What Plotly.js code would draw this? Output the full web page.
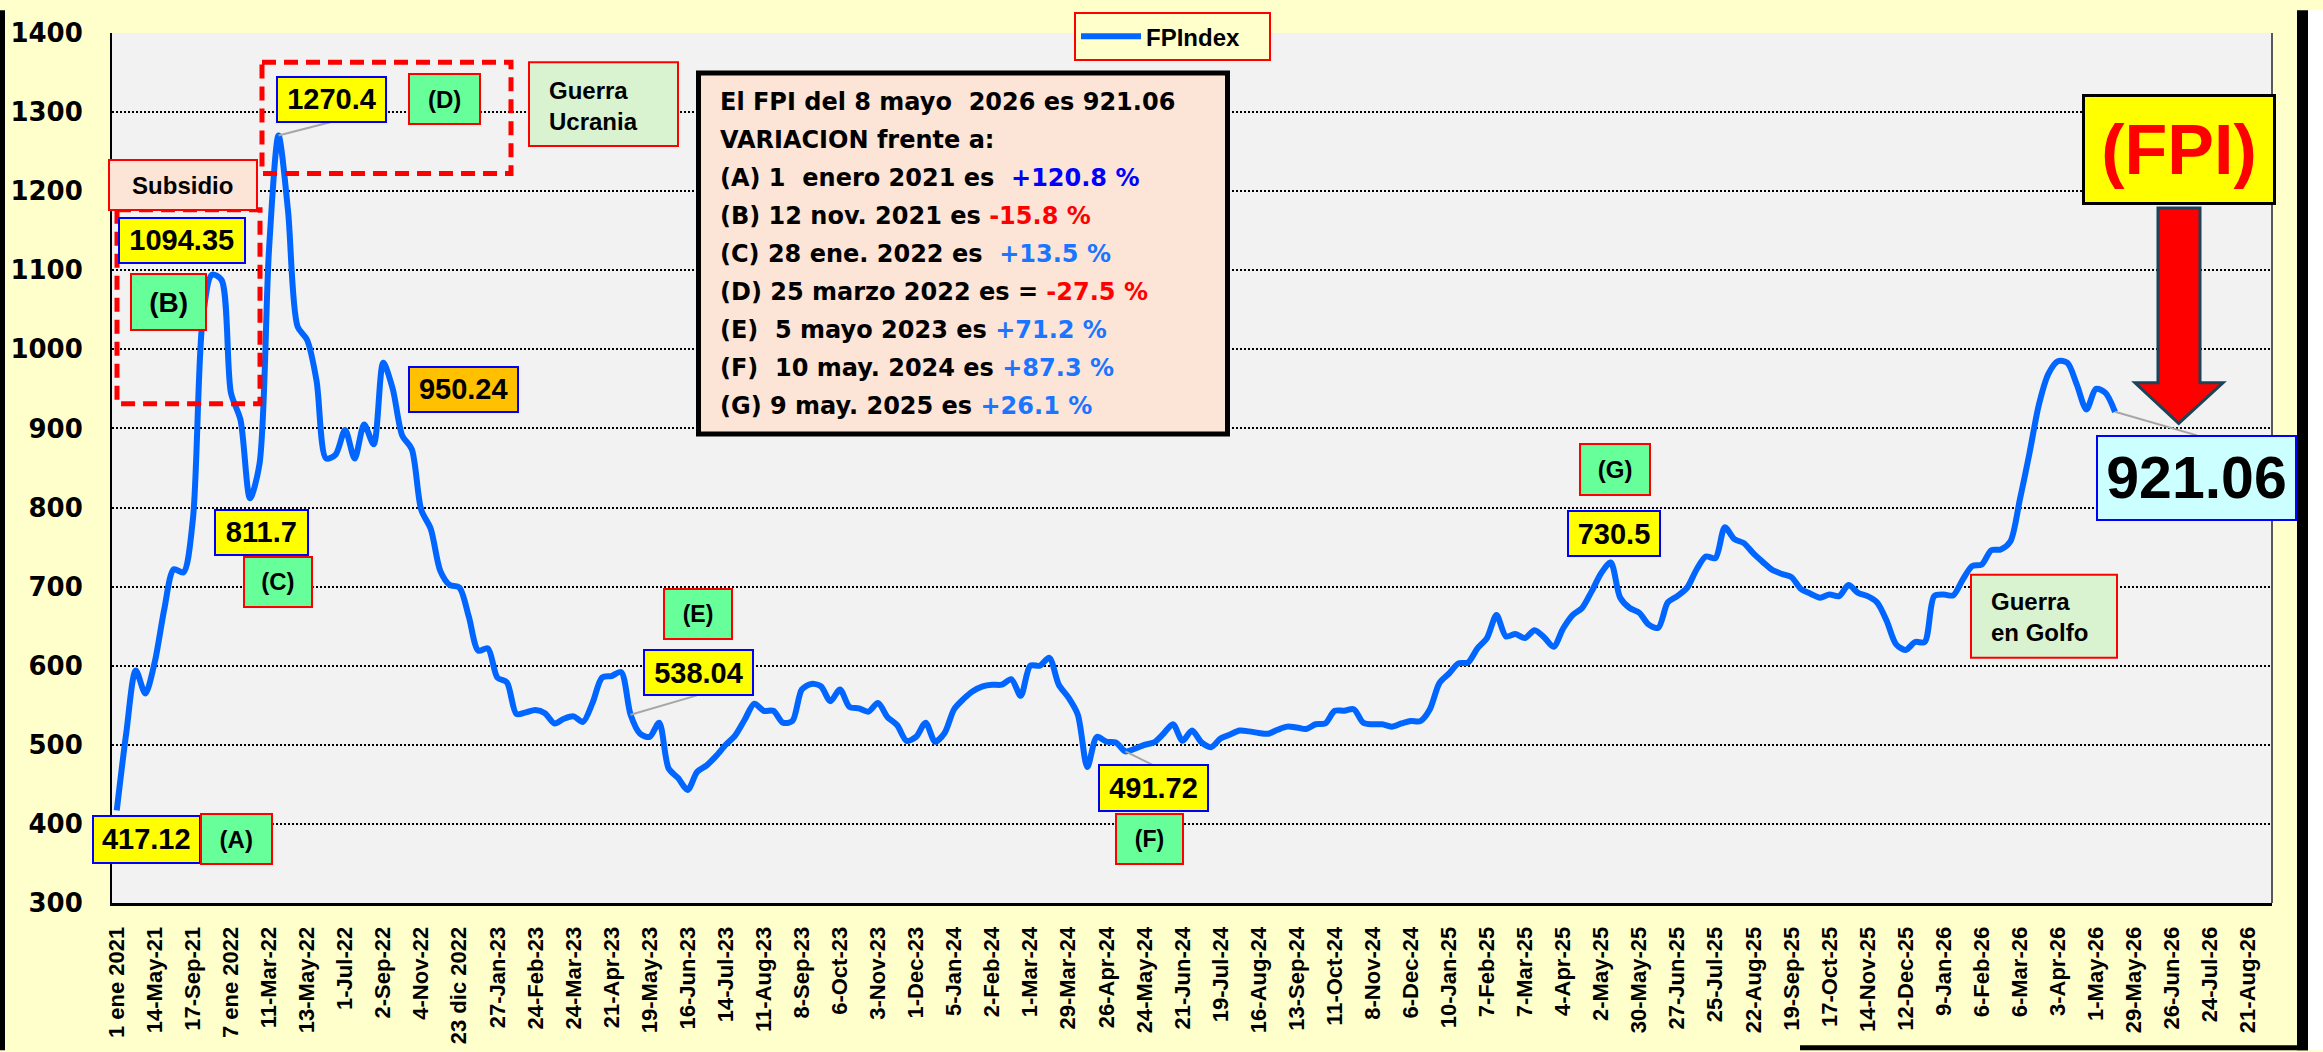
<!DOCTYPE html>
<html><head><meta charset="utf-8">
<script src="https://cdn.plot.ly/plotly-3.0.1.min.js"></script>
<style>html,body{margin:0;padding:0;background:#FFFFCC;overflow:hidden}#chart{width:2323px;height:1052px}</style>
</head><body><div id="chart"></div>
<script>
// ---------------- DATA ----------------
const seriesName = 'FPIndex';
const tickLabels = ["1 ene 2021","14-May-21","17-Sep-21","7 ene 2022","11-Mar-22","13-May-22","1-Jul-22","2-Sep-22","4-Nov-22","23 dic 2022","27-Jan-23","24-Feb-23","24-Mar-23","21-Apr-23","19-May-23","16-Jun-23","14-Jul-23","11-Aug-23","8-Sep-23","6-Oct-23","3-Nov-23","1-Dec-23","5-Jan-24","2-Feb-24","1-Mar-24","29-Mar-24","26-Apr-24","24-May-24","21-Jun-24","19-Jul-24","16-Aug-24","13-Sep-24","11-Oct-24","8-Nov-24","6-Dec-24","10-Jan-25","7-Feb-25","7-Mar-25","4-Apr-25","2-May-25","30-May-25","27-Jun-25","25-Jul-25","22-Aug-25","19-Sep-25","17-Oct-25","14-Nov-25","12-Dec-25","9-Jan-26","6-Feb-26","6-Mar-26","3-Apr-26","1-May-26","29-May-26","26-Jun-26","24-Jul-26","21-Aug-26"];
const labelStep = 4;          // one tick label every 4 categories
const categoryCount = 227;    // categories on the axis (data + empty future weeks)
const fpiValues = [
 417.12,515,594,565,605,672,722,718,785,1035,
 1094.35,1088,945,911,811.7,855,1126,1270.4,1175,1029,
 1012,960,862,867,898,862,905,880,983,950.24,
 891,874,797,773,720,702,699,662,619,622,
 585,579,539,541,544,540,527,533,536,529,
 553,585,587,592,538.04,514,510,528,470,458,
 443,466,474,486,500,512,532,552,543,543,
 528,530,570,577,574,555,570,548,546,542,
 553,535,525,505,510,528,504,515,545,558,
 568,574,576,576,583,562,600,600,610,576,
 560,538,472,510,504,503,491.72,495,500,503,
 514,526,505,518,503,497,508,513,518,517,
 515,514,519,523,522,520,526,527,543,543,
 545,528,526,526,523,527,530,530,545,578,
 590,603,604,622,635,664,637,640,635,645,
 636,624,647,664,673,694,717,730.5,686,673,
 667,652,648,680,688,698,721,738,736,775,
 760,755,742,731,721,716,712,697,691,686,
 690,688,702,692,688,680,657,627,620,630,
 630,688,690,689,709,726,728,746,747,757,
 810,868,930,969,985,983,955,924,950,945,
 921.06];
// highlighted points (index into fpiValues) that have a leader line to their label
const leaderIdx = {D:17, E:54, F:106, NOW:210};

const infoLines = [
 "El FPI del 8 mayo\u00a0 2026 es 921.06",
 "VARIACION frente a:",
 "(A) 1\u00a0 enero 2021 es\u00a0 <span style='color:#0000FF'>+120.8 %</span>",
 "(B) 12 nov. 2021 es <span style='color:#FF0000'>-15.8 %</span>",
 "(C) 28 ene. 2022 es\u00a0 <span style='color:#1A75FF'>+13.5 %</span>",
 "(D) 25 marzo 2022 es = <span style='color:#FF0000'>-27.5 %</span>",
 "(E)\u00a0 5 mayo 2023 es <span style='color:#1A75FF'>+71.2 %</span>",
 "(F)\u00a0 10 may. 2024 es <span style='color:#1A75FF'>+87.3 %</span>",
 "(G) 9 may. 2025 es <span style='color:#1A75FF'>+26.1 %</span>"
];

// ---------------- GEOMETRY HELPERS ----------------
const L=112, R=2272, T=23, B=903;
const px = x => (x-L)/(R-L);
const py = y => (B-y)/(B-T);
const catW = (R-L)/categoryCount;
const dx = x => (x-L)/catW - 0.5;
const dy = y => 1400 - (y-T)*1100/(B-T);

const ARIAL = 'Liberation Sans, Arial, sans-serif';
const WIDE = 'DejaVu Sans, Verdana, sans-serif';

const annotations = [];
const shapes = [];

function box(text, x0, y0, x1, y1, fill, border, bw, fsize, color, family){
  annotations.push({xref:'paper', yref:'paper', x:px((x0+x1)/2), y:py((y0+y1)/2),
    xanchor:'center', yanchor:'middle', showarrow:false, text:text,
    width:(x1-x0)-2*bw, height:(y1-y0)-2*bw, borderpad:0,
    bgcolor:fill, bordercolor:border, borderwidth:bw,
    font:{family:family||ARIAL, size:fsize, color:color||'#000', weight:'bold'}});
}
function rect(x0,y0,x1,y1,fill,line,lw,dash){
  shapes.push({type:'rect', xref:'paper', yref:'paper', x0:px(x0), x1:px(x1), y0:py(y0), y1:py(y1),
    fillcolor:fill, line:{color:line, width:lw, dash:dash||'solid'}, layer:'above'});
}
function label(text, x, y, fsize, family, anchor){
  annotations.push({xref:'paper', yref:'paper', x:px(x), y:py(y), xanchor:anchor||'left', yanchor:'middle',
    showarrow:false, text:text, align:'left', font:{family:family||ARIAL, size:fsize, color:'#000', weight:'bold'}});
}

// page frame strips
rect(0,0,5,1052,'#000','#000',0);
rect(2297,0,2308,1052,'#000','#000',0);
rect(2308,0,2323,1052,'#FFFFFF','#FFFFFF',0);
rect(1800,1047,2308,1052,'#000','#000',0);
// plot right border
shapes.push({type:'line', xref:'paper', yref:'paper', x0:1, x1:1, y0:0, y1:1, line:{color:'#595959', width:2}});

// leader lines (from data points to their labels)
function leader(i, ex, ey){
  shapes.push({type:'line', xref:'x', yref:'y', x0:i, y0:fpiValues[i], x1:dx(ex), y1:dy(ey),
    line:{color:'#A6A6A6', width:2}, layer:'above'});
}
leader(leaderIdx.D, 331, 113);
leader(leaderIdx.E, 697, 693);
leader(leaderIdx.F, 1152, 763);
leader(leaderIdx.NOW, 2197, 430);

// dashed highlight frames
rect(117,201.7,260,398,'rgba(0,0,0,0)','#FF0000',5,'14px,8px');
rect(262,52.7,511,165,'rgba(0,0,0,0)','#FF0000',5,'14px,8px');

// info box
rect(698.5,63.5,1227.5,428.5,'#FCE4D6','#000000',5);
const infoBase = [101.7,140,178.3,216.7,255,293.3,331.7,370,408.3];
infoLines.forEach((t,k)=>label(t, 718, infoBase[k]-8.5, 24, WIDE));

// text boxes
rect(529,52.7,678,137.3,'#D9F2D0','#FF0000',2);
label('Guerra<br>Ucrania', 547, 97, 24, ARIAL);
rect(1971,571,2117,655,'#D9F2D0','#FF0000',2);
label('Guerra<br>en Golfo', 1989, 613.5, 24, ARIAL);
box('Subsidio',108.5,150.7,258,202.7,'#FCE4D6','#FF0000',2,24);

// value labels
const YEL='#FFFF00', GRN='#66FF99', BLU='#0000FF', RED='#FF0000';
box(String(fpiValues[0]),92,814,200.5,862.7,YEL,BLU,2,29);
box('(A)',200.5,811.7,273,864,GRN,RED,2,24);
box(String(fpiValues[10]),118,210,245.5,256.7,YEL,BLU,2,29);
box('(B)',129.5,266,206.7,324,GRN,RED,2,28);
box(String(fpiValues[17]),275.4,66.7,386.6,113.3,YEL,BLU,2,29);
box('(D)',407.6,63.3,480.8,115.3,GRN,RED,2,24);
box(String(fpiValues[29]),408.5,360,519,406.7,'#FFC000',BLU,2,29);
box(String(fpiValues[14]),214,505,308.7,551.7,YEL,BLU,2,29);
box('(C)',243,552.7,312.8,604.3,GRN,RED,2,24);
box('(E)',663,585,733,637.3,GRN,RED,2,23);
box(String(fpiValues[54]),643,646,754,693.3,YEL,BLU,2,29);
box(String(fpiValues[106]),1098,763,1209,810.7,YEL,BLU,2,29);
box('(F)',1115,811.7,1184,864,GRN,RED,2,23);
box('(G)',1578.7,438,1651,490.7,GRN,RED,2,24);
box(String(fpiValues[157]),1567,506,1661,553.3,YEL,BLU,2,29);
box('(FPI)',2081.7,85,2275.7,196.4,YEL,'#000000',3,70,'#FF0000');
box(String(fpiValues[210]),2095.7,430.4,2296.7,516,'#CCFFFF',BLU,2,59);

// big red arrow
const P = (x,y)=>px(x).toFixed(5)+','+py(y).toFixed(5);
shapes.push({type:'path', xref:'paper', yref:'paper', layer:'above',
  path:'M'+P(2158,200)+' L'+P(2200,200)+' L'+P(2200,376.8)+' L'+P(2223,376.8)+' L'+P(2178.7,417.9)+' L'+P(2135,376.8)+' L'+P(2158,376.8)+' Z',
  fillcolor:'#FF0000', line:{color:'#1B4459', width:3}});

// ---------------- CHART ----------------
const trace = {
  x: fpiValues.map((_,i)=>i), y: fpiValues, type:'scatter', mode:'lines', name:seriesName,
  line:{color:'#0066FF', width:6, shape:'spline', smoothing:0.8}, showlegend:true
};

const layout = {
  width:2323, height:1052, margin:{l:112, r:51, t:23, b:149, pad:0},
  paper_bgcolor:'#FFFFCC', plot_bgcolor:'#F2F2F2',
  showlegend:true,
  legend:{x:px(1074), xanchor:'left', y:py(2), yanchor:'top', orientation:'h',
    itemwidth:60, entrywidth:118, entrywidthmode:'pixels',
    bgcolor:'#FFFFCC', bordercolor:'#FF0000', borderwidth:2,
    font:{family:ARIAL, size:24, color:'#000', weight:'bold'}},
  xaxis:{range:[-0.5, categoryCount-0.5], tickmode:'array',
    tickvals: tickLabels.map((_,k)=>k*labelStep), ticktext: tickLabels,
    tickangle:-90, tickfont:{family:ARIAL, size:22, color:'#000', weight:'bold'},
    showgrid:false, zeroline:false, showline:true, linecolor:'#000', linewidth:3,
    ticks:'', ticklabelstandoff:12, automargin:false, fixedrange:true},
  yaxis:{range:[300,1400], tick0:300, dtick:100, tickfont:{family:WIDE, size:26, color:'#000', weight:'bold'},
    showgrid:true, gridcolor:'#000', gridwidth:2, griddash:'2px,2px',
    zeroline:false, showline:true, linecolor:'#000', linewidth:2,
    ticks:'', ticklabelstandoff:22, automargin:false, fixedrange:true},
  shapes:shapes, annotations:annotations
};

Plotly.newPlot('chart', [trace], layout, {displayModeBar:false, staticPlot:true});
</script></body></html>
